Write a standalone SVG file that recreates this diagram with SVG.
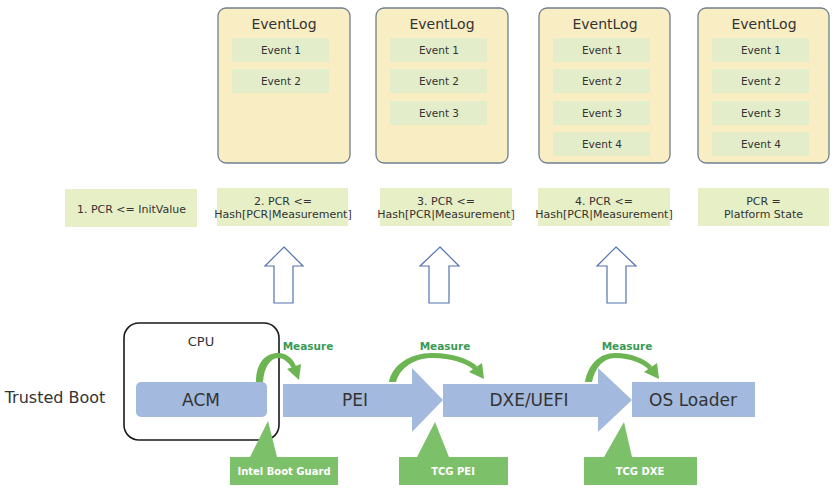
<svg xmlns="http://www.w3.org/2000/svg" width="837" height="490" viewBox="0 0 837 490">
<style>
text{font-family:"DejaVu Sans","Liberation Sans",sans-serif;fill:#333;text-anchor:middle}
.log{fill:#f9edc3;stroke:#6f7f90;stroke-width:1.3}
.ev{fill:#e3edca}
.evt{font-size:10.5px}
.title{font-size:14px}
.pcr{fill:#e6efc6}
.pt{font-size:11px}
.up{fill:#fff;stroke:#5473b0;stroke-width:1.2}
.blue{fill:#a3b9dd}
.big{font-size:17px}
.call{fill:#7dc06a}
.ct{font-size:10px;font-weight:bold;fill:#fff}
.ms{font-size:10.5px;font-weight:bold;fill:#3a9a55}
.arc{fill:#6cb552}
.head{fill:#6cb552}
</style>
<rect width="837" height="490" fill="#fff"/>

<g id="eventlog1">
<rect class="log" x="218" y="8" width="132" height="155" rx="8"/>
<text class="title" x="284" y="29">EventLog</text>
<rect class="ev" x="232" y="38" width="97" height="24"/><text class="evt" x="281" y="54">Event 1</text>
<rect class="ev" x="232" y="69" width="97" height="24"/><text class="evt" x="281" y="85">Event 2</text>
</g>
<g id="eventlog2">
<rect class="log" x="376" y="8" width="132" height="155" rx="8"/>
<text class="title" x="442" y="29">EventLog</text>
<rect class="ev" x="390" y="38" width="97" height="24"/><text class="evt" x="439" y="54">Event 1</text>
<rect class="ev" x="390" y="69" width="97" height="24"/><text class="evt" x="439" y="85">Event 2</text>
<rect class="ev" x="390" y="101" width="97" height="24"/><text class="evt" x="439" y="117">Event 3</text>
</g>
<g id="eventlog3">
<rect class="log" x="539" y="8" width="131" height="155" rx="8"/>
<text class="title" x="605" y="29">EventLog</text>
<rect class="ev" x="553" y="38" width="97" height="24"/><text class="evt" x="602" y="54">Event 1</text>
<rect class="ev" x="553" y="69" width="97" height="24"/><text class="evt" x="602" y="85">Event 2</text>
<rect class="ev" x="553" y="101" width="97" height="24"/><text class="evt" x="602" y="117">Event 3</text>
<rect class="ev" x="553" y="132" width="97" height="24"/><text class="evt" x="602" y="148">Event 4</text>
</g>
<g id="eventlog4">
<rect class="log" x="698" y="8" width="131" height="155" rx="8"/>
<text class="title" x="764" y="29">EventLog</text>
<rect class="ev" x="712" y="38" width="97" height="24"/><text class="evt" x="761" y="54">Event 1</text>
<rect class="ev" x="712" y="69" width="97" height="24"/><text class="evt" x="761" y="85">Event 2</text>
<rect class="ev" x="712" y="101" width="97" height="24"/><text class="evt" x="761" y="117">Event 3</text>
<rect class="ev" x="712" y="132" width="97" height="24"/><text class="evt" x="761" y="148">Event 4</text>
</g>

<g id="pcr1"><rect class="pcr" x="65" y="189" width="132" height="38"/><text class="pt" x="131.5" y="213">1. PCR &lt;= InitValue</text></g>
<g id="pcr2"><rect class="pcr" x="217" y="188" width="131" height="38"/><text class="pt" x="283" y="205">2. PCR &lt;=</text><text class="pt" x="283" y="218">Hash[PCR|Measurement]</text></g>
<g id="pcr3"><rect class="pcr" x="380" y="188" width="132" height="38"/><text class="pt" x="446" y="205">3. PCR &lt;=</text><text class="pt" x="446" y="218">Hash[PCR|Measurement]</text></g>
<g id="pcr4"><rect class="pcr" x="538" y="188" width="132" height="38"/><text class="pt" x="604" y="205">4. PCR &lt;=</text><text class="pt" x="604" y="218">Hash[PCR|Measurement]</text></g>
<g id="pcr5"><rect class="pcr" x="698" y="188" width="131" height="38"/><text class="pt" x="763.5" y="205">PCR =</text><text class="pt" x="763.5" y="218">Platform State</text></g>

<g id="uparrows">
<polygon class="up" points="284,247 303,266 293,266 293,303 274,303 274,266 265,266"/>
<polygon class="up" points="440,247 459,266 449,266 449,303 429,303 429,266 420,266"/>
<polygon class="up" points="616,247 636,266 626,266 626,303 607,303 607,266 597,266"/>
</g>

<g id="label-trusted"><text x="55" y="403" style="font-size:16px">Trusted Boot</text></g>

<g id="cpu">
<rect x="124" y="323" width="155" height="117" rx="15" fill="none" stroke="#1a1a1a" stroke-width="1.6"/>
<text x="201" y="346" style="font-size:13px">CPU</text>
</g>
<g id="acm"><rect class="blue" x="136" y="382" width="131" height="35" rx="5"/><text class="big" x="201" y="406">ACM</text></g>
<g id="pei"><polygon class="blue" points="283,384 412,384 412,368 443,400 412,432 412,417 283,417"/><text class="big" x="355" y="406">PEI</text></g>
<g id="dxe"><polygon class="blue" points="443,384 598,384 598,368 632,400 598,432 598,417 443,417"/><text class="big" x="529" y="406">DXE/UEFI</text></g>
<g id="osloader"><rect class="blue" x="632" y="382" width="123" height="35"/><text class="big" x="693" y="406">OS Loader</text></g>

<g id="connectors">
<path class="arc" d="M256,382 C256,362 266,353 278,353 C287,353 293,359 296,366 L292,368 C289,363 284,358 278,358 C270,358 264,368 263,382 Z"/>
<polygon class="head" points="299,380 301,364 287,369"/>
<path class="arc" d="M389,382 C392,365 410,353 432,353 C455,353 470,360 477,366 L474,370 C466,363 452,358 432,358 C414,358 400,368 396,382 Z"/>
<polygon class="head" points="484,379 482,363 469,372"/>
<path class="arc" d="M585,382 C588,364 600,353 615,353 C632,353 645,359 652,366 L649,370 C643,363 630,358 615,358 C603,358 595,368 592,382 Z"/>
<polygon class="head" points="659,379 657,363 644,372"/>
</g>
<text class="ms" x="308" y="350">Measure</text>
<text class="ms" x="445" y="350">Measure</text>
<text class="ms" x="627" y="350">Measure</text>

<g id="bootguard"><polygon class="call" points="268,421 277,457 338,457 338,485 230,485 230,457 250,457"/><text class="ct" x="284" y="475">Intel Boot Guard</text></g>
<g id="tcgpei"><polygon class="call" points="435,422 449,457 508,457 508,485 399,485 399,457 417,457"/><text class="ct" x="453" y="475">TCG PEI</text></g>
<g id="tcgdxe"><polygon class="call" points="624,422 632,457 697,457 697,485 584,485 584,457 604,457"/><text class="ct" x="640" y="475">TCG DXE</text></g>
</svg>
